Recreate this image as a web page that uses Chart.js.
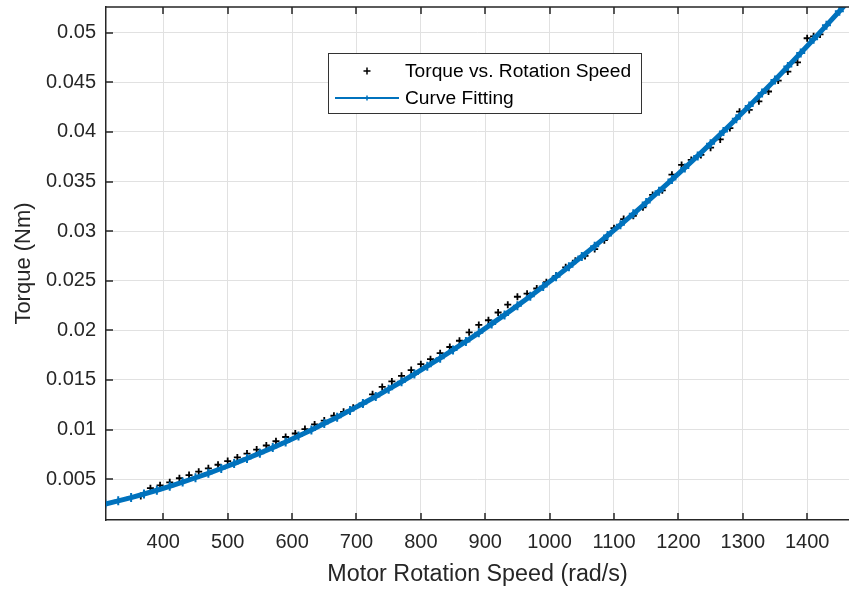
<!DOCTYPE html>
<html>
<head>
<meta charset="utf-8">
<script src="https://cdn.jsdelivr.net/npm/chart.js@4.4.0/dist/chart.umd.min.js"></script>
<style>
  html, body { margin: 0; padding: 0; background: #fff; }
  #wrap { width: 849px; height: 589px; }
</style>
</head>
<body>
<div id="wrap"><canvas id="torque_speed_plot"></canvas></div>
<script>
// measured points (rad/s, Nm)
const measured_speed = [365, 380, 395, 410, 425, 440, 455, 470, 485, 500,
  515, 530, 545, 560, 575, 590, 605, 620, 635, 650,
  665, 680, 695, 710, 725, 740, 755, 770, 785, 800,
  815, 830, 845, 860, 875, 890, 905, 920, 935, 950,
  965, 980, 995, 1010, 1025, 1040, 1055, 1070, 1085, 1100,
  1115, 1130, 1145, 1160, 1175, 1190, 1205, 1220, 1235, 1250,
  1265, 1280, 1295, 1310, 1325, 1340, 1355, 1370, 1385, 1400,
  1410, 1420];
const measured_torque = [0.00331, 0.00409, 0.00438, 0.00468, 0.00509, 0.00541, 0.00575, 0.00609, 0.00645, 0.00682,
  0.00719, 0.00758, 0.00798, 0.00839, 0.00882, 0.00925, 0.00960, 0.01005, 0.01052, 0.01090,
  0.01139, 0.01179, 0.01220, 0.01262, 0.01355, 0.01430, 0.01485, 0.01542, 0.01600, 0.01659,
  0.01709, 0.01770, 0.01832, 0.01895, 0.01980, 0.02055, 0.02102, 0.02180, 0.02259, 0.02339,
  0.02370, 0.02422, 0.02485, 0.02550, 0.02635, 0.02702, 0.02750, 0.02819, 0.02909, 0.03030,
  0.03122, 0.03155, 0.03240, 0.03365, 0.03412, 0.03570, 0.03668, 0.03718, 0.03769, 0.03842,
  0.03925, 0.04039, 0.04205, 0.04222, 0.04309, 0.04408, 0.04518, 0.04609, 0.04701, 0.04945,
  0.04964, 0.04984];

// fitted curve
const fit_speed = [310, 330, 350, 370, 390, 410, 430, 450, 470, 490,
  510, 530, 550, 570, 590, 610, 630, 650, 670, 690,
  710, 730, 750, 770, 790, 810, 830, 850, 870, 890,
  910, 930, 950, 970, 990, 1010, 1030, 1050, 1070, 1090,
  1110, 1130, 1150, 1170, 1190, 1210, 1230, 1250, 1270, 1290,
  1310, 1330, 1350, 1370, 1390, 1410, 1430, 1450, 1470];
const fit_torque = [0.00249, 0.00281, 0.00314, 0.00350, 0.00388, 0.00428, 0.00470, 0.00514, 0.00559, 0.00607,
  0.00657, 0.00708, 0.00762, 0.00818, 0.00875, 0.00935, 0.00996, 0.01060, 0.01125, 0.01193,
  0.01262, 0.01333, 0.01407, 0.01482, 0.01559, 0.01639, 0.01720, 0.01803, 0.01888, 0.01975,
  0.02065, 0.02156, 0.02249, 0.02344, 0.02441, 0.02540, 0.02641, 0.02744, 0.02849, 0.02956,
  0.03064, 0.03175, 0.03288, 0.03403, 0.03520, 0.03638, 0.03759, 0.03882, 0.04006, 0.04133,
  0.04262, 0.04392, 0.04525, 0.04659, 0.04796, 0.04934, 0.05075, 0.05217, 0.05361];

const x_ticks = [400, 500, 600, 700, 800, 900, 1000, 1100, 1200, 1300, 1400];
const y_ticks = [0.005, 0.01, 0.015, 0.02, 0.025, 0.03, 0.035, 0.04, 0.045, 0.05];

const axis_color = '#262626';
const fit_color = '#0072BD';
const font_family = '"Liberation Sans", Arial, Helvetica, sans-serif';

// MATLAB style box: inward ticks and top edge
const matlab_axes = {
  id: 'matlab_axes',
  afterDraw(chart) {
    const ctx = chart.ctx;
    const a = chart.chartArea;
    const xs = chart.scales.x, ys = chart.scales.y;
    ctx.save();
    ctx.strokeStyle = axis_color;
    ctx.lineWidth = 1.5;
    ctx.beginPath();
    ctx.moveTo(a.left, a.top);
    ctx.lineTo(a.right, a.top);
    x_ticks.forEach(v => {
      const px = Math.round(xs.getPixelForValue(v));
      ctx.moveTo(px, a.bottom);
      ctx.lineTo(px, a.bottom - 7);
      ctx.moveTo(px, a.top);
      ctx.lineTo(px, a.top + 7);
    });
    y_ticks.forEach(v => {
      const py = Math.round(ys.getPixelForValue(v));
      ctx.moveTo(a.left, py);
      ctx.lineTo(a.left + 7, py);
    });
    ctx.stroke();
    ctx.restore();
  }
};

// legend box inside the axes
const inner_legend = {
  id: 'inner_legend',
  afterDraw(chart) {
    const ctx = chart.ctx;
    const sets = chart.data.datasets;
    const bx = 328.5, by = 53.5, bw = 313, bh = 60;
    ctx.save();
    ctx.fillStyle = '#fff';
    ctx.fillRect(bx, by, bw, bh);
    ctx.strokeStyle = '#333';
    ctx.lineWidth = 1;
    ctx.strokeRect(bx, by, bw, bh);

    const cross = (x, y, r, color) => {
      ctx.strokeStyle = color;
      ctx.lineWidth = 1.5;
      ctx.beginPath();
      ctx.moveTo(x - r, y); ctx.lineTo(x + r, y);
      ctx.moveTo(x, y - r); ctx.lineTo(x, y + r);
      ctx.stroke();
    };
    cross(367, 71, 3.5, '#000');
    ctx.strokeStyle = fit_color;
    ctx.lineWidth = 2;
    ctx.beginPath();
    ctx.moveTo(335, 98); ctx.lineTo(399, 98);
    ctx.stroke();
    cross(367, 98, 2.5, fit_color);

    ctx.fillStyle = '#000';
    ctx.font = '19.2px ' + font_family;
    ctx.textBaseline = 'middle';
    ctx.fillText(sets[0].label, 405, 72);
    ctx.fillText(sets[1].label, 405, 99);
    ctx.restore();
  }
};

const torque_speed_plot_canvas = document.querySelector('#torque_speed_plot');

const torque_speed_plot_chart = new Chart(
  torque_speed_plot_canvas,
  {
    type: 'scatter',
    data: {
      datasets: [
        {
          label: 'Torque vs. Rotation Speed',
          data: measured_speed.map((s, i) => ({ x: s, y: measured_torque[i] })),
          pointStyle: 'cross',
          pointRadius: 3.5,
          pointBorderWidth: 1.8,
          borderColor: '#000',
          backgroundColor: '#000',
          showLine: false,
          order: 2,
          clip: 0
        },
        {
          label: 'Curve Fitting',
          data: fit_speed.map((s, i) => ({ x: s, y: fit_torque[i] })),
          showLine: true,
          borderColor: fit_color,
          backgroundColor: fit_color,
          borderWidth: 5,
          pointStyle: 'cross',
          pointRadius: 4.5,
          pointBorderWidth: 2,
          order: 1,
          clip: 0
        }
      ]
    },
    options: {
      responsive: true,
      maintainAspectRatio: false,
      animation: false,
      layout: { autoPadding: false, padding: { top: 7, right: 0, left: 0, bottom: 0 } },
      scales: {
        x: {
          type: 'linear',
          position: 'bottom',
          min: 311,
          max: 1465,
          afterBuildTicks: s => { s.ticks = x_ticks.map(v => ({ value: v })); },
          afterFit: s => { s.height = 69; s.paddingLeft = 0; s.paddingRight = 0; },
          grid: { color: '#e1e1e1', drawTicks: false },
          border: { color: axis_color, width: 1.5 },
          ticks: {
            color: axis_color,
            font: { size: 20, family: font_family },
            padding: 10,
            maxRotation: 0,
            autoSkip: false,
            callback: v => String(v)
          },
          title: {
            display: true,
            text: 'Motor Rotation Speed (rad/s)',
            color: axis_color,
            font: { size: 23.3, family: font_family },
            padding: { top: 0, bottom: 0 }
          }
        },
        y: {
          type: 'linear',
          min: 0.00088,
          max: 0.0526,
          afterBuildTicks: s => { s.ticks = y_ticks.map(v => ({ value: v })); },
          afterFit: s => { s.width = 106; s.paddingTop = 0; s.paddingBottom = 0; },
          grid: { color: '#e1e1e1', drawTicks: false },
          border: { color: axis_color, width: 1.5 },
          ticks: {
            color: axis_color,
            font: { size: 20, family: font_family },
            padding: 10,
            autoSkip: false,
            callback: v => String(v)
          },
          title: {
            display: true,
            text: 'Torque (Nm)',
            color: axis_color,
            font: { size: 22, family: font_family },
            padding: { top: 11, bottom: 0 }
          }
        }
      },
      plugins: {
        legend: { display: false },
        tooltip: { enabled: false }
      }
    },
    plugins: [matlab_axes, inner_legend]
  }
);
</script>
</body>
</html>
